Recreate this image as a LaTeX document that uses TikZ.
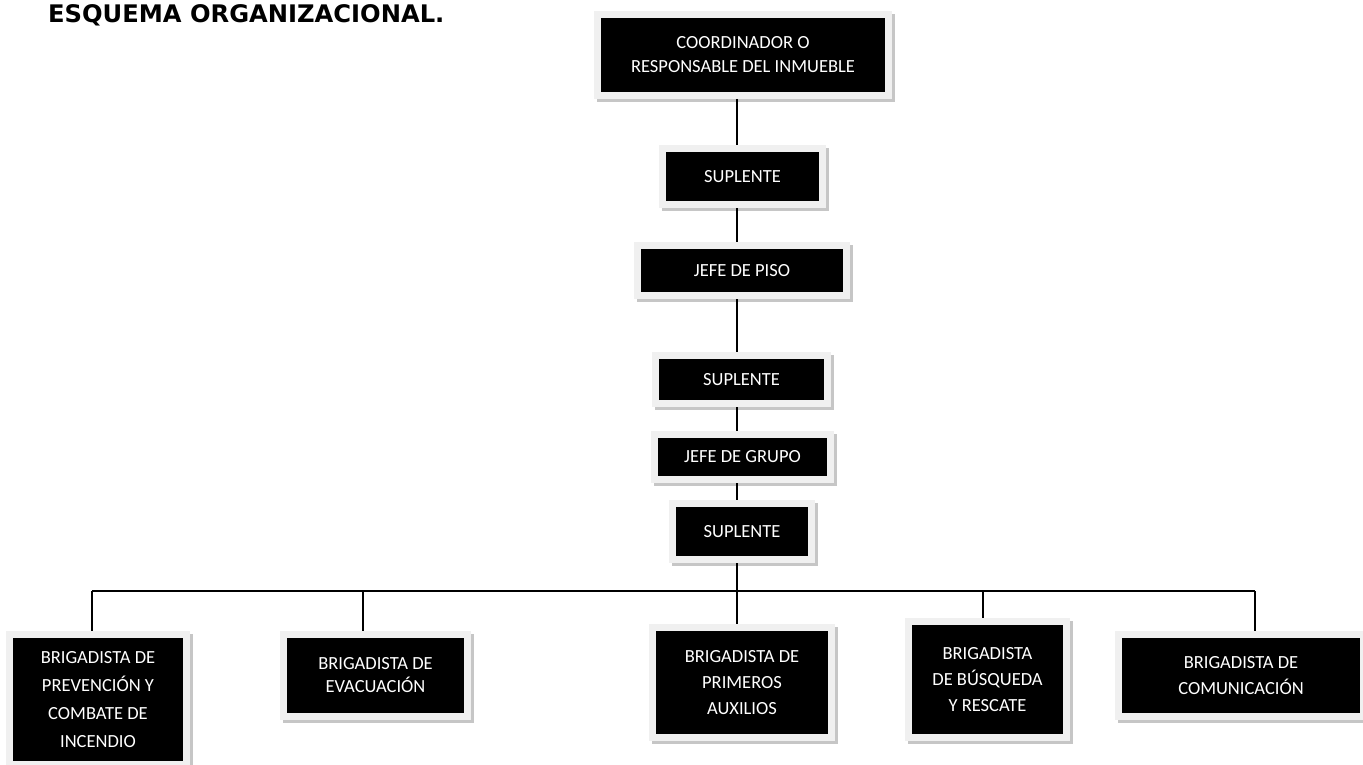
\documentclass[tikz,border=0pt]{standalone}
\usepackage{fontspec}
\setmainfont{Carlito}
\newfontfamily\titulofont{DejaVu Sans}
\usepackage{tikz}
\definecolor{marco}{RGB}{240, 240, 240}
\definecolor{sombra}{RGB}{198, 198, 198}
\tikzset{puesto/.style = {fill = black, text = white, align = center, inner sep = 0, outer sep = 7pt,
                          font = \fontsize{18.5}{26}\selectfont,
                          preaction = {draw = sombra, line width = 14, transform canvas = {shift = {(3pt, -3pt)}}},
                          preaction = {draw = marco, line width = 14}}}
\tikzset{linea/.style = {line width = 2}}

\begin{document}
\begin{tikzpicture}[x = 1pt, y = -1pt]
    \useasboundingbox (0, 0) rectangle (1363, 765);
    \node [anchor = base west, inner sep = 0, font = \titulofont\bfseries\fontsize{24.2}{28}\selectfont] (titulo) at (48, 23) {ESQUEMA ORGANIZACIONAL.};

    \node [puesto, minimum width = 284, minimum height = 74, font = \fontsize{18.5}{24}\selectfont] (coord) at (743, 55) {COORDINADOR O\\RESPONSABLE DEL INMUEBLE};
    \node [puesto, minimum width = 153, minimum height = 49] (sup1) at (742.5, 176.5) {SUPLENTE};
    \node [puesto, minimum width = 202, minimum height = 43] (piso) at (742, 270.5) {JEFE DE PISO};
    \node [puesto, minimum width = 165, minimum height = 41] (sup2) at (741.5, 379.5) {SUPLENTE};
    \node [puesto, minimum width = 169, minimum height = 38] (grupo) at (742.5, 457) {JEFE DE GRUPO};
    \node [puesto, minimum width = 132, minimum height = 49] (sup3) at (742, 531.5) {SUPLENTE};

    \node [puesto, minimum width = 170, minimum height = 123, font = \fontsize{18.5}{28}\selectfont] (b1) at (98, 699.5) {BRIGADISTA DE\\PREVENCIÓN Y\\COMBATE DE\\INCENDIO};
    \node [puesto, minimum width = 177, minimum height = 75, font = \fontsize{18.5}{23}\selectfont] (b2) at (375.5, 675.5) {BRIGADISTA DE\\EVACUACIÓN};
    \node [puesto, minimum width = 172, minimum height = 103] (b3) at (742, 682.5) {BRIGADISTA DE\\PRIMEROS\\AUXILIOS};
    \node [puesto, minimum width = 151, minimum height = 109] (b4) at (987.5, 679.5) {BRIGADISTA\\DE BÚSQUEDA\\Y RESCATE};
    \node [puesto, minimum width = 238, minimum height = 75] (b5) at (1241, 675.5) {BRIGADISTA DE\\COMUNICACIÓN};

    % tronco
    \coordinate (eje) at (737, 591);
    \draw [linea] (coord.south -| eje) -- (sup1.north -| eje);
    \draw [linea] (sup1.south -| eje) -- (piso.north -| eje);
    \draw [linea] (piso.south -| eje) -- (sup2.north -| eje);
    \draw [linea] (sup2.south -| eje) -- (grupo.north -| eje);
    \draw [linea] (grupo.south -| eje) -- (sup3.north -| eje);
    \draw [linea] (sup3.south -| eje) -- (eje);

    % brigadas
    \coordinate (d1) at (92, 591);
    \coordinate (d2) at (363, 591);
    \coordinate (d4) at (983, 591);
    \coordinate (d5) at (1255, 591);
    \draw [linea] (d1) -- (d5);
    \draw [linea] (d1) -- (d1 |- b1.north);
    \draw [linea] (d2) -- (d2 |- b2.north);
    \draw [linea] (eje) -- (eje |- b3.north);
    \draw [linea] (d4) -- (d4 |- b4.north);
    \draw [linea] (d5) -- (d5 |- b5.north);
  \end{tikzpicture}
\end{document}
